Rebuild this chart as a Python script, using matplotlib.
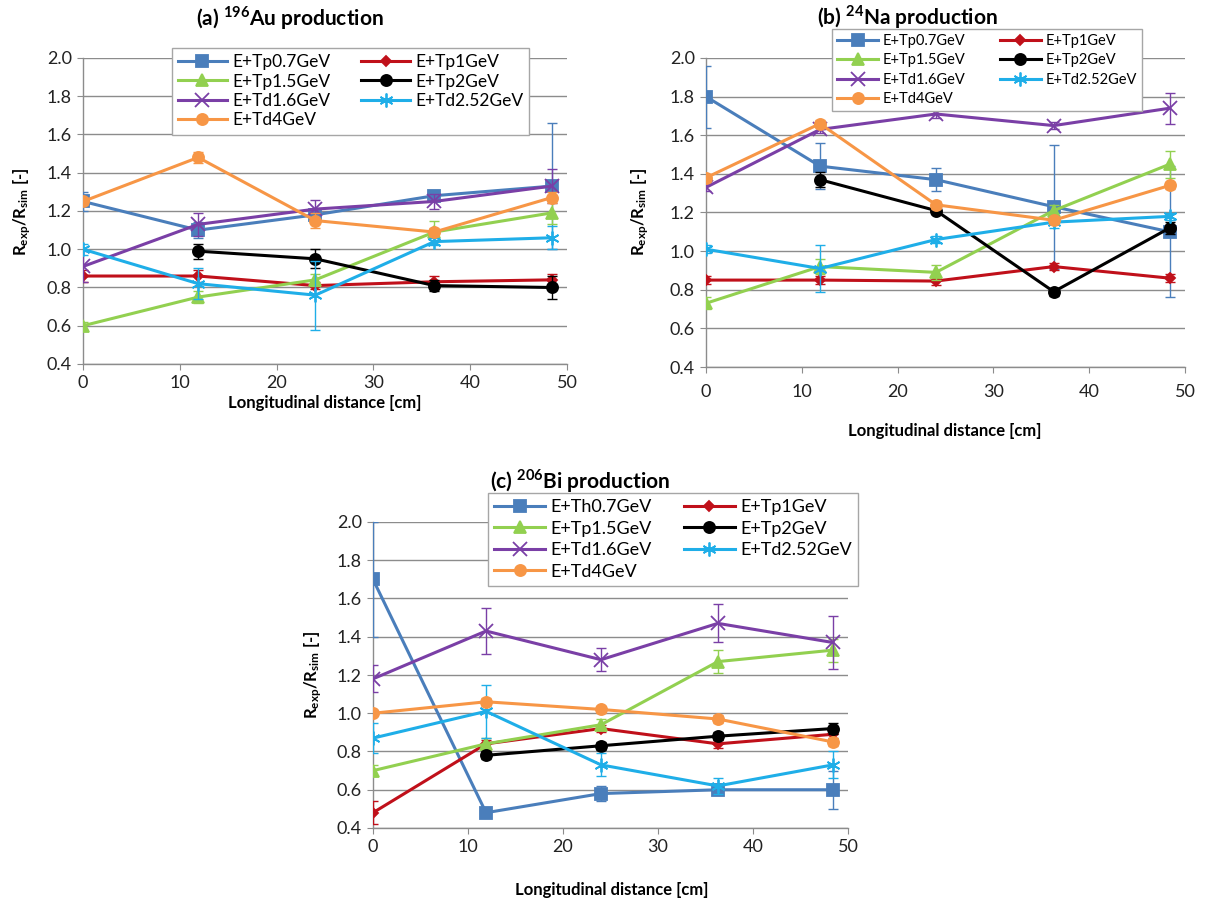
import numpy as np
import matplotlib.pyplot as plt

plt.rcParams['font.family'] = ['Lato', 'DejaVu Sans']
plt.rcParams['mathtext.fontset'] = 'custom'
plt.rcParams['mathtext.rm'] = 'Lato'
plt.rcParams['mathtext.bf'] = 'Lato:bold'

# longitudinal positions of the foils [cm]
distance = [0, 11.9, 24.0, 36.3, 48.4]

labels_ab = ['E+Tp0.7GeV', 'E+Tp1GeV', 'E+Tp1.5GeV', 'E+Tp2GeV',
             'E+Td1.6GeV', 'E+Td2.52GeV', 'E+Td4GeV']
labels_c = ['E+Th0.7GeV', 'E+Tp1GeV', 'E+Tp1.5GeV', 'E+Tp2GeV',
            'E+Td1.6GeV', 'E+Td2.52GeV', 'E+Td4GeV']

nan = np.nan

# (a) 196Au ratios and uncertainties
au_vals = [
    [1.25, 1.10, 1.18, 1.28, 1.33],
    [0.86, 0.86, 0.81, 0.83, 0.84],
    [0.60, 0.75, 0.84, 1.09, 1.19],
    [nan, 0.99, 0.95, 0.81, 0.80],
    [0.91, 1.13, 1.21, 1.25, 1.33],
    [1.00, 0.82, 0.76, 1.04, 1.06],
    [1.25, 1.48, 1.15, 1.09, 1.27],
]
au_errs = [
    [0.05, 0.04, 0.03, 0.03, 0.33],
    [0.03, 0.03, 0.02, 0.03, 0.03],
    [0.02, 0.03, 0.03, 0.06, 0.06],
    [nan, 0.04, 0.05, 0.03, 0.06],
    [0.08, 0.06, 0.05, 0.04, 0.09],
    [0.03, 0.08, 0.18, 0.02, 0.06],
    [0.02, 0.03, 0.04, 0.02, 0.03],
]

# (b) 24Na
na_vals = [
    [1.80, 1.44, 1.37, 1.23, 1.10],
    [0.85, 0.85, 0.845, 0.92, 0.86],
    [0.73, 0.92, 0.89, 1.21, 1.45],
    [nan, 1.37, 1.21, 0.79, 1.12],
    [1.33, 1.63, 1.71, 1.65, 1.74],
    [1.01, 0.91, 1.06, 1.15, 1.18],
    [1.38, 1.66, 1.24, 1.16, 1.34],
]
na_errs = [
    [0.16, 0.12, 0.06, 0.32, 0.34],
    [0.02, 0.02, 0.02, 0.02, 0.02],
    [0.03, 0.04, 0.04, 0.03, 0.07],
    [nan, 0.04, 0.02, 0.02, 0.03],
    [0.02, 0.02, 0.02, 0.02, 0.08],
    [0.02, 0.12, 0.02, 0.03, 0.02],
    [0.02, 0.02, 0.02, 0.02, 0.02],
]

# (c) 206Bi
bi_vals = [
    [1.70, 0.48, 0.58, 0.60, 0.60],
    [0.48, 0.84, 0.92, 0.84, 0.89],
    [0.70, 0.84, 0.94, 1.27, 1.33],
    [nan, 0.78, 0.83, 0.88, 0.92],
    [1.18, 1.43, 1.28, 1.47, 1.37],
    [0.87, 1.01, 0.73, 0.62, 0.73],
    [1.00, 1.06, 1.02, 0.97, 0.85],
]
bi_errs = [
    [0.30, 0.02, 0.04, 0.02, 0.10],
    [0.06, 0.02, 0.02, 0.02, 0.02],
    [0.03, 0.03, 0.03, 0.06, 0.06],
    [nan, 0.02, 0.02, 0.02, 0.03],
    [0.07, 0.12, 0.06, 0.10, 0.14],
    [0.08, 0.14, 0.06, 0.04, 0.07],
    [0.01, 0.02, 0.02, 0.02, 0.02],
]

colors = ['#4A7EBB', '#C0101A', '#92D050', '#000000', '#7A3FA6', '#1FAEE8', '#F79646']
markers = ['s', 'D', '^', 'o', 'x', (6, 2, 0), 'o']
msizes = [8, 5, 8, 8, 10, 10, 8]

W, H = 1208, 911
fig = plt.figure(figsize=(W / 100, H / 100), dpi=100)


def px_axes(l, r, t, b):
    return fig.add_axes([l / W, 1 - b / H, (r - l) / W, (b - t) / H])


def draw_panel(ax, vals, errs, xpad):
    x = np.array(distance)
    lines = []
    for i in range(len(vals)):
        y = np.array(vals[i], dtype=float)
        e = np.array(errs[i], dtype=float)
        ax.errorbar(x, y, yerr=e, fmt='none', ecolor=colors[i],
                    elinewidth=1.0, capsize=3.5, capthick=1.0, zorder=3 + i)
        ln, = ax.plot(x, y, color=colors[i], lw=2.2, marker=markers[i],
                      ms=msizes[i], mfc=colors[i], mec=colors[i], mew=1.3,
                      zorder=3 + i)
        lines.append(ln)
    ax.set_xlim(0, 50)
    ax.set_ylim(0.4, 2.0)
    ax.set_xticks(range(0, 51, 10))
    ax.set_yticks(np.arange(0.4, 2.01, 0.2))
    ax.set_yticklabels(['%.1f' % v for v in np.arange(0.4, 2.01, 0.2)])
    ax.grid(axis='y', color='#8C8C8C', lw=1.0)
    ax.set_axisbelow(True)
    for s in ('top', 'right'):
        ax.spines[s].set_visible(False)
    for s in ('left', 'bottom'):
        ax.spines[s].set_color('#8C8C8C')
        ax.spines[s].set_linewidth(1.0)
    ax.tick_params(axis='both', colors='#8C8C8C', labelcolor='#222222',
                   labelsize=13, direction='out')
    ax.tick_params(axis='x', length=4, pad=xpad)
    ax.tick_params(axis='y', length=4, pad=4)
    return lines


def add_legend(ax, lines, labels, l, t, fs, spacing, colsp):
    # two columns filled row by row
    order = [0, 2, 4, 6, 1, 3, 5]
    leg = ax.legend([lines[k] for k in order], [labels[k] for k in order],
                    loc='upper left', bbox_to_anchor=(l / W, 1 - t / H),
                    bbox_transform=fig.transFigure, borderaxespad=0,
                    ncol=2, fontsize=fs,
                    frameon=True, fancybox=False, edgecolor='#A6A6A6',
                    framealpha=1, borderpad=0.35, labelspacing=spacing,
                    handlelength=2.8, handletextpad=0.3, columnspacing=colsp)
    leg.get_frame().set_linewidth(1.0)
    leg.set_zorder(20)


ylab = r'$\mathbf{R_{exp}/R_{sim}}$ [-]'

# (a)
ax_a = px_axes(83, 567, 58, 364)
lines_a = draw_panel(ax_a, au_vals, au_errs, 4)
add_legend(ax_a, lines_a, labels_ab, 172, 48, 12.5, 0.2, 1.8)
fig.text(290 / W, 1 - 18 / H, r'(a) $^{\mathbf{196}}$Au production',
         ha='center', va='center', fontsize=15, fontweight='bold')
fig.text(325 / W, 1 - 403 / H, 'Longitudinal distance [cm]',
         ha='center', va='center', fontsize=12, fontweight='bold')
fig.text(22 / W, 1 - 212 / H, ylab, rotation=90, ha='center', va='center',
         fontsize=12, fontweight='bold')

# (b)
ax_b = px_axes(706, 1185, 58, 367)
lines_b = draw_panel(ax_b, na_vals, na_errs, 8)
add_legend(ax_b, lines_b, labels_ab, 832, 29, 10.5, 0.36, 2.4)
fig.text(907 / W, 1 - 17 / H, r'(b) $^{\mathbf{24}}$Na production',
         ha='center', va='center', fontsize=15, fontweight='bold')
fig.text(945 / W, 1 - 431 / H, 'Longitudinal distance [cm]',
         ha='center', va='center', fontsize=12, fontweight='bold')
fig.text(640 / W, 1 - 212 / H, ylab, rotation=90, ha='center', va='center',
         fontsize=12, fontweight='bold')

# (c)
ax_c = px_axes(373, 848, 522, 828)
lines_c = draw_panel(ax_c, bi_vals, bi_errs, 4)
add_legend(ax_c, lines_c, labels_c, 488, 493, 13, 0.3, 1.8)
fig.text(580 / W, 1 - 481 / H, r'(c) $^{\mathbf{206}}$Bi production',
         ha='center', va='center', fontsize=15, fontweight='bold')
fig.text(612 / W, 1 - 890 / H, 'Longitudinal distance [cm]',
         ha='center', va='center', fontsize=12, fontweight='bold')
fig.text(313 / W, 1 - 675 / H, ylab, rotation=90, ha='center', va='center',
         fontsize=12, fontweight='bold')

fig.savefig('out.png', dpi=100, facecolor='white')
